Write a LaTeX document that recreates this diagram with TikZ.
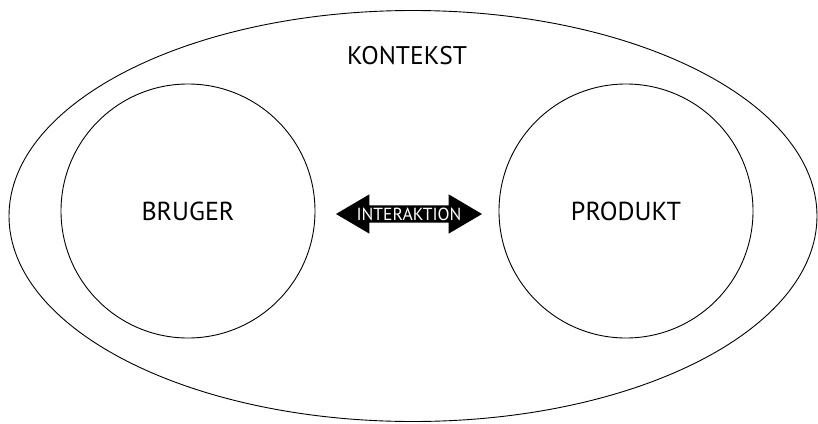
\documentclass[tikz,border=0pt]{standalone}
\usepackage{fontspec}
\setmainfont{PT Sans}
\usepackage{tikz}
\usetikzlibrary{shapes.geometric, shapes.arrows}

\begin{document}
\begin{tikzpicture}[x=1pt, y=-1pt, line cap=round,
    cerchio/.style={circle, draw, line width=0.9pt, minimum size=254pt, inner sep=0pt, font=\fontsize{26}{26}\selectfont},
    freccia/.style={double arrow, fill=black, text=white, minimum height=146pt,
        double arrow head extend=11pt, double arrow tip angle=61, inner xsep=2pt, inner ysep=2.5pt,
        text height=12pt, text depth=0pt, font=\fontsize{17.5}{17.5}\selectfont}]
\useasboundingbox (0,0) rectangle (818,423);

% Contesto
\node[ellipse, draw, line width=0.9pt, minimum width=808pt, minimum height=411pt, inner sep=0pt] (kontekst) at (413,216) {};
\node[font=\fontsize{25.5}{25.5}\selectfont] (kontekstlabel) at (407,56) {KONTEKST};

% Cerchi
\node[cerchio] (bruger) at (188,211) {BRUGER};
\node[cerchio] (produkt) at (626,211) {PRODUKT};

% Freccia doppia
\node[freccia] (interaktion) at (409,214) {INTERAKTION};

\end{tikzpicture}
\end{document}
